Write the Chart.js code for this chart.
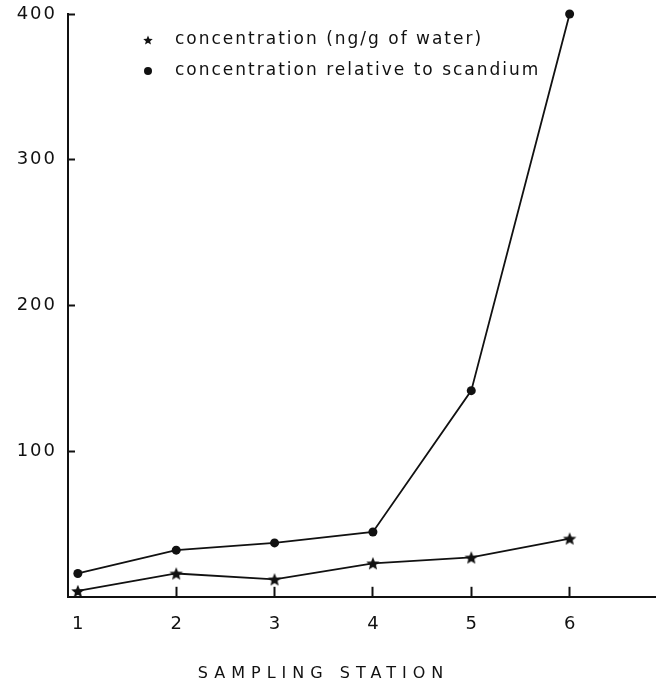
<!DOCTYPE html>
<html><head><meta charset="utf-8">
<script src="https://cdn.jsdelivr.net/npm/chart.js@4.4.1/dist/chart.umd.min.js"></script>
<style>html,body{margin:0;padding:0;background:#fff;} canvas{display:block;}</style>
</head><body>
<canvas id="c" width="663" height="690"></canvas>
<script>
// ---- data ----
const stations = [1, 2, 3, 4, 5, 6];
const concWater = [4, 16, 12, 23, 27, 40];
const concScandium = [16, 32, 37, 44.5, 141.5, 400];
const yTicks = [100, 200, 300, 400];
const seriesNames = ['concentration (ng/g of water)', 'concentration relative to scandium'];
const xTitle = 'SAMPLING STATION';

const INK = '#111';
const FONT = 'DejaVu Sans';

function makeMarker(kind, r, offsetX, w, h) {
  const c = document.createElement('canvas');
  c.width = w; c.height = h;
  const g = c.getContext('2d');
  g.fillStyle = INK;
  const cx = w / 2 + offsetX, cy = h / 2;
  g.beginPath();
  if (kind === 'star') {
    for (let i = 0; i < 10; i++) {
      const rad = i % 2 ? r * 0.45 : r;
      const a = -Math.PI / 2 + i * Math.PI / 5;
      const px = cx + rad * Math.cos(a), py = cy + rad * Math.sin(a) + r * 0.1;
      if (i) g.lineTo(px, py); else g.moveTo(px, py);
    }
    g.closePath();
  } else {
    g.arc(cx, cy, r, 0, Math.PI * 2);
  }
  g.fill();
  return c;
}
const starImg = makeMarker('star', 7, 0, 18, 18);
const legendMarkers = [makeMarker('star', 5, -10, 32, 14), makeMarker('circle', 4, -10, 32, 14)];

const toPoints = vals => stations.map((s, i) => ({ x: s, y: vals[i] }));

function spaced(obj, method, spacing, ctx) {
  if (!obj || !obj[method]) return;
  const orig = obj[method];
  obj[method] = function (...args) {
    const prev = ctx.letterSpacing;
    ctx.letterSpacing = spacing;
    const r = orig.apply(this, args);
    ctx.letterSpacing = prev;
    return r;
  };
}

const tweak = {
  id: 'tweak',
  afterLayout(chart) {
    const ca = chart.chartArea;
    const lg = chart.legend;
    if (lg) {
      lg.left = ca.left + 67.5; lg.right = ca.right;
      lg.top = ca.top + 3.5; lg.bottom = ca.bottom;
    }
    const tb = chart.titleBlock;
    if (tb) { tb.left -= 16; }
  },
  beforeDraw(chart) {
    if (chart.$patched) return;
    chart.$patched = true;
    spaced(chart.scales.y, 'drawLabels', '2px', chart.ctx);
    spaced(chart.legend, 'draw', '2px', chart.ctx);
    spaced(chart.titleBlock, 'draw', '6px', chart.ctx);
  }
};

new Chart(document.getElementById('c'), {
  type: 'line',
  data: {
    datasets: [
      { label: seriesNames[0], data: toPoints(concWater), borderColor: INK, backgroundColor: INK,
        borderWidth: 1.8, pointStyle: starImg, pointRadius: 6, clip: false, tension: 0 },
      { label: seriesNames[1], data: toPoints(concScandium), borderColor: INK, backgroundColor: INK,
        borderWidth: 1.8, pointStyle: 'circle', pointRadius: 4.5, pointBorderWidth: 0, clip: false, tension: 0 }
    ]
  },
  options: {
    responsive: false,
    animation: false,
    devicePixelRatio: 1,
    layout: { padding: { top: 14, left: 0, right: 0, bottom: 0 } },
    scales: {
      x: {
        type: 'linear', min: 0.9, max: 6.87,
        afterBuildTicks: s => { s.ticks = stations.map(v => ({ value: v })); },
        afterFit: s => { s.height = 67; s.paddingLeft = 0; s.paddingRight = 0; },
        grid: {
          drawOnChartArea: false, drawTicks: true, tickLength: -10, tickWidth: 2,
          tickColor: c => (c.tick && c.tick.value === stations[0]) ? 'rgba(0,0,0,0)' : INK
        },
        border: { display: true, color: INK, width: 2 },
        ticks: { color: INK, font: { family: FONT, size: 18 }, padding: 27, maxRotation: 0, autoSkip: false }
      },
      y: {
        type: 'linear', min: 0, max: 400,
        afterBuildTicks: s => { s.ticks = yTicks.map(v => ({ value: v })); },
        afterFit: s => { s.width = 68; s.paddingTop = 10; s.paddingBottom = 0; },
        grid: { drawOnChartArea: false, drawTicks: true, tickLength: -7, tickWidth: 2, tickColor: INK },
        border: { display: true, color: INK, width: 2 },
        ticks: { color: INK, font: { family: FONT, size: 18 }, padding: 18 }
      }
    },
    plugins: {
      legend: {
        position: 'chartArea', align: 'start',
        labels: {
          usePointStyle: true, color: INK, padding: 14,
          font: { family: FONT, size: 17 },
          generateLabels: chart => Chart.defaults.plugins.legend.labels.generateLabels(chart)
            .map((it, i) => Object.assign(it, { pointStyle: legendMarkers[i] }))
        }
      },
      title: {
        display: true, text: xTitle, position: 'bottom', color: INK,
        font: { family: FONT, size: 16, weight: 'normal' },
        padding: { top: 0, bottom: 7 }
      },
      tooltip: { enabled: false }
    }
  },
  plugins: [tweak]
});
</script>
</body></html>
